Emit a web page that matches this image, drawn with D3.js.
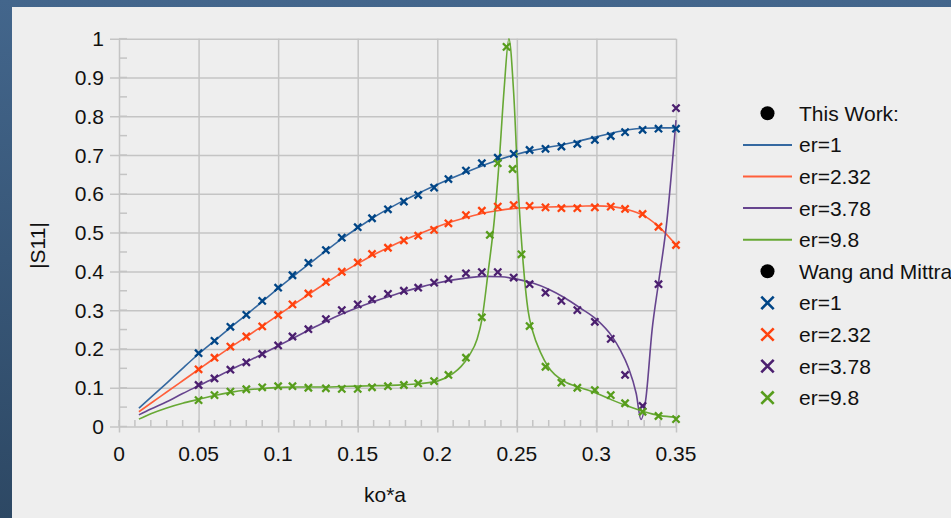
<!DOCTYPE html>
<html><head><meta charset="utf-8">
<script src="https://cdn.jsdelivr.net/npm/d3@7"></script>
<style>html,body{margin:0;padding:0;overflow:hidden;background:#3a5a7e}</style>
</head><body>
<script>
// ---- data ----
const xTicks = [0, 0.05, 0.1, 0.15, 0.2, 0.25, 0.3, 0.35];
const xTickLabels = ["0", "0.05", "0.1", "0.15", "0.2", "0.25", "0.3", "0.35"];
const yTicks = [0, 0.1, 0.2, 0.3, 0.4, 0.5, 0.6, 0.7, 0.8, 0.9, 1];
const yTickLabels = ["0", "0.1", "0.2", "0.3", "0.4", "0.5", "0.6", "0.7", "0.8", "0.9", "1"];
const seriesNames = ["er=1", "er=2.32", "er=3.78", "er=9.8"];

// This Work (lines)
const lineX = [0.0125,0.02,0.03,0.04,0.05,0.06,0.07,0.08,0.09,0.10,0.11,0.12,0.13,0.14,0.15,0.16,0.17,0.18,0.19,0.20,0.21,0.22,0.23,0.24,0.25,0.26,0.27,0.28,0.29,0.30,0.31,0.32,0.33,0.34,0.35];
const lineEr1 = [0.047,0.075,0.112,0.150,0.187,0.221,0.255,0.288,0.322,0.356,0.389,0.421,0.453,0.484,0.512,0.539,0.563,0.585,0.605,0.624,0.642,0.659,0.675,0.690,0.702,0.712,0.720,0.728,0.737,0.747,0.757,0.765,0.769,0.770,0.770];
const lineEr232 = [0.038,0.060,0.089,0.118,0.147,0.176,0.204,0.231,0.259,0.287,0.315,0.343,0.370,0.396,0.420,0.443,0.463,0.482,0.499,0.515,0.529,0.541,0.551,0.558,0.563,0.565,0.566,0.567,0.568,0.569,0.567,0.559,0.543,0.512,0.468];
const lineX378 = [0.0125,0.02,0.03,0.04,0.05,0.06,0.07,0.08,0.09,0.10,0.11,0.12,0.13,0.14,0.15,0.16,0.17,0.18,0.19,0.20,0.21,0.22,0.23,0.24,0.25,0.26,0.27,0.28,0.29,0.30,0.31,0.315,0.32,0.325,0.328,0.331,0.335,0.339,0.344,0.35];
const lineEr378 = [0.030,0.045,0.064,0.085,0.105,0.125,0.146,0.166,0.187,0.208,0.229,0.250,0.271,0.290,0.307,0.322,0.336,0.349,0.360,0.370,0.378,0.384,0.387,0.386,0.380,0.370,0.354,0.332,0.305,0.276,0.231,0.197,0.153,0.085,0.018,0.070,0.250,0.370,0.520,0.790];
const lineX98 = [0.0125,0.02,0.03,0.04,0.05,0.06,0.07,0.08,0.09,0.10,0.11,0.12,0.13,0.14,0.15,0.16,0.17,0.18,0.19,0.20,0.21,0.215,0.22,0.225,0.228,0.232,0.236,0.239,0.242,0.245,0.248,0.251,0.254,0.257,0.26,0.265,0.27,0.28,0.29,0.30,0.31,0.32,0.33,0.34,0.35];
const lineEr98 = [0.019,0.033,0.048,0.060,0.070,0.080,0.088,0.094,0.098,0.101,0.102,0.102,0.102,0.103,0.104,0.105,0.106,0.108,0.111,0.117,0.137,0.155,0.183,0.225,0.275,0.400,0.540,0.690,0.870,1.000,0.860,0.600,0.420,0.300,0.245,0.190,0.152,0.116,0.100,0.086,0.068,0.052,0.038,0.028,0.024];

// Wang and Mittra (crosses)
const crossX = [0.05,0.06,0.07,0.08,0.09,0.1,0.109,0.119,0.13,0.14,0.15,0.159,0.169,0.179,0.188,0.198,0.207,0.218,0.228,0.238,0.248,0.258,0.268,0.278,0.288,0.299,0.309,0.318,0.329,0.339,0.35];
const crossEr1 = [0.189,0.221,0.257,0.288,0.324,0.358,0.390,0.422,0.455,0.487,0.514,0.537,0.560,0.580,0.597,0.616,0.638,0.660,0.679,0.693,0.703,0.713,0.716,0.722,0.729,0.739,0.749,0.759,0.765,0.768,0.768];
const crossEr232 = [0.1475,0.1775,0.206,0.232,0.258,0.2875,0.315,0.343,0.373,0.399,0.423,0.445,0.461,0.480,0.492,0.507,0.524,0.545,0.5565,0.567,0.571,0.569,0.565,0.563,0.563,0.565,0.567,0.561,0.548,0.515,0.468];
const crossEr378 = [0.107,0.124,0.1465,0.1655,0.187,0.209,0.232,0.251,0.277,0.300,0.315,0.328,0.342,0.350,0.358,0.371,0.380,0.395,0.398,0.398,0.384,0.367,0.345,0.324,0.300,0.270,0.226,0.133,0.053,0.367,0.821];
const crossX98 = [0.05,0.06,0.07,0.08,0.09,0.1,0.109,0.119,0.13,0.14,0.15,0.159,0.169,0.179,0.188,0.198,0.207,0.218,0.228,0.233,0.238,0.2435,0.2473,0.2529,0.258,0.268,0.278,0.288,0.299,0.309,0.318,0.329,0.339,0.35];
const crossEr98 = [0.068,0.081,0.090,0.096,0.101,0.104,0.104,0.100,0.0985,0.097,0.097,0.101,0.104,0.107,0.111,0.117,0.133,0.1775,0.2815,0.494,0.679,0.979,0.664,0.444,0.259,0.154,0.113,0.100,0.094,0.081,0.060,0.038,0.027,0.019];

// ---- styles ----
const markColors = ["#004586", "#ff420e", "#4b1f6f", "#579d1c"];
const lineColors = ["#3468a0", "#ff5f3a", "#66448e", "#67a834"];
const W = 951, H = 518;
const FONT = "'Liberation Sans', Arial, sans-serif";

const svg = d3.select("body").append("svg").attr("width", W).attr("height", H);
const defs = svg.append("defs");
const grad = defs.append("linearGradient").attr("id", "bg").attr("x1", "0").attr("y1", "0").attr("x2", "0").attr("y2", "1");
grad.append("stop").attr("offset", "0").attr("stop-color", "#43668c");
grad.append("stop").attr("offset", "1").attr("stop-color", "#2d4864");
svg.append("rect").attr("width", W).attr("height", H).attr("fill", "url(#bg)");
svg.append("rect").attr("x", 12).attr("y", 7).attr("width", W - 12).attr("height", H - 7).attr("fill", "#eeeeee");

const x = d3.scaleLinear().domain([0, 0.35]).range([119, 676]);
const y = d3.scaleLinear().domain([0, 1]).range([426.5, 38.7]);

const gridCol = "#c4c4c4";
const g = svg.append("g");

// grid + major ticks via axes
const xAxis = d3.axisBottom(x).tickValues(xTicks).tickSize(-(y(0) - y(1)) - 6).tickFormat("");
g.append("g").attr("transform", `translate(0,${y(0) + 6})`).call(xAxis)
  .call(s => { s.select(".domain").remove(); s.selectAll("line").attr("stroke", gridCol).attr("stroke-width", 1.5); });
const yAxis = d3.axisLeft(y).tickValues(yTicks).tickSize(-(x(0.35) - x(0)) - 9).tickFormat("");
g.append("g").attr("transform", `translate(${x(0) - 9},0)`).call(yAxis)
  .call(s => { s.select(".domain").remove(); s.selectAll("line").attr("stroke", gridCol).attr("stroke-width", 1.5); });

// minor ticks (inside)
const xMinor = d3.range(0, 36).map(i => i / 100);
g.selectAll(".xm").data(xMinor).join("line")
  .attr("x1", d => x(d)).attr("x2", d => x(d)).attr("y1", y(0)).attr("y2", y(0) - 6.5)
  .attr("stroke", gridCol).attr("stroke-width", 1.5);
const yMinor = d3.range(0, 21).map(i => i / 20);
g.selectAll(".ym").data(yMinor).join("line")
  .attr("x1", x(0)).attr("x2", x(0) + 8).attr("y1", d => y(d)).attr("y2", d => y(d))
  .attr("stroke", gridCol).attr("stroke-width", 1.5);

// tick labels
g.selectAll(".xl").data(xTicks).join("text")
  .attr("x", d => x(d)).attr("y", 461).attr("text-anchor", "middle")
  .attr("font-family", FONT).attr("font-size", 21).attr("fill", "#111")
  .text((d, i) => xTickLabels[i]);
g.selectAll(".yl").data(yTicks).join("text")
  .attr("x", 104).attr("y", d => y(d) + 7.5).attr("text-anchor", "end")
  .attr("font-family", FONT).attr("font-size", 21).attr("fill", "#111")
  .text((d, i) => yTickLabels[i]);

// axis titles
svg.append("text").attr("x", 385).attr("y", 502).attr("text-anchor", "middle")
  .attr("font-family", FONT).attr("font-size", 21).attr("fill", "#111").text("ko*a");
svg.append("text").attr("transform", "translate(44.5,245.5) rotate(-90)").attr("text-anchor", "middle")
  .attr("font-family", FONT).attr("font-size", 21).attr("fill", "#111").text("|S11|");

// lines
const lineData = [
  [lineX, lineEr1], [lineX, lineEr232], [lineX378, lineEr378], [lineX98, lineEr98]
];
const lineGen = d3.line().x(d => x(d[0])).y(d => y(d[1])).curve(d3.curveMonotoneX);
lineData.forEach(([xs, ys], i) => {
  g.append("path").datum(xs.map((v, j) => [v, ys[j]]))
    .attr("d", lineGen).attr("fill", "none").attr("stroke", lineColors[i]).attr("stroke-width", 1.6);
});

// crosses
const crossData = [
  [crossX, crossEr1], [crossX, crossEr232], [crossX, crossEr378], [crossX98, crossEr98]
];
const cs = 3.6;
const crossPath = (cx, cy, s) => `M${cx - s},${cy - s}L${cx + s},${cy + s}M${cx - s},${cy + s}L${cx + s},${cy - s}`;
crossData.forEach(([xs, ys], i) => {
  g.append("g").selectAll("path").data(xs.map((v, j) => [v, ys[j]])).join("path")
    .attr("d", d => crossPath(x(d[0]), y(d[1]), cs))
    .attr("stroke", markColors[i]).attr("stroke-width", 2.3).attr("fill", "none");
});

// legend
const lgY0 = 113.3, lgStep = 31.6, lgSym = 767.5, lgText = 799;
const legendRows = [
  {type: "dot", label: "This Work:"},
  ...seriesNames.map((n, i) => ({type: "line", label: n, i})),
  {type: "dot", label: "Wang and Mittra:"},
  ...seriesNames.map((n, i) => ({type: "cross", label: n, i}))
];
const lg = svg.append("g");
legendRows.forEach((r, k) => {
  const cy = lgY0 + k * lgStep;
  if (r.type === "dot") lg.append("circle").attr("cx", lgSym).attr("cy", cy).attr("r", 7).attr("fill", "#000");
  if (r.type === "line") lg.append("line").attr("x1", 743).attr("x2", 792).attr("y1", cy).attr("y2", cy)
    .attr("stroke", lineColors[r.i]).attr("stroke-width", 2);
  if (r.type === "cross") lg.append("path").attr("d", crossPath(lgSym, cy, 6.2))
    .attr("stroke", markColors[r.i]).attr("stroke-width", 2.6).attr("fill", "none");
  lg.append("text").attr("x", lgText).attr("y", cy + 7.5).attr("font-family", FONT).attr("font-size", 21)
    .attr("fill", "#111").text(r.label);
});
</script>
</body></html>
